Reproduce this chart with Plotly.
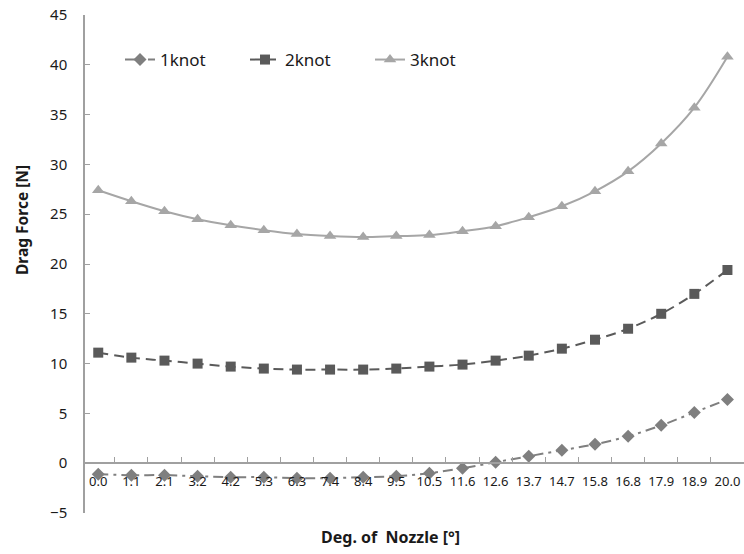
import plotly.graph_objects as go

categories = ["0.0", "1.1", "2.1", "3.2", "4.2", "5.3", "6.3", "7.4", "8.4", "9.5",
              "10.5", "11.6", "12.6", "13.7", "14.7", "15.8", "16.8", "17.9", "18.9", "20.0"]
knot1 = [-1.1, -1.2, -1.2, -1.3, -1.4, -1.4, -1.5, -1.5, -1.4, -1.3,
         -1.0, -0.5, 0.1, 0.7, 1.3, 1.9, 2.7, 3.8, 5.1, 6.4]
knot2 = [11.1, 10.6, 10.3, 10.0, 9.7, 9.5, 9.4, 9.4, 9.4, 9.5,
         9.7, 9.9, 10.3, 10.8, 11.5, 12.4, 13.5, 15.0, 17.0, 19.4]
knot3 = [27.4, 26.3, 25.3, 24.5, 23.9, 23.4, 23.0, 22.8, 22.7, 22.8,
         22.9, 23.3, 23.8, 24.7, 25.8, 27.3, 29.3, 32.1, 35.7, 40.8]
y_ticks = [-5, 0, 5, 10, 15, 20, 25, 30, 35, 40, 45]
series_names = ["1knot", "2knot", "3knot"]

FONT = "Noto Sans"
W, H = 744, 554
L, T, R, B = 85, 15, 0, 41
PW, PH = W - L - R, H - T - B


def px_x(px):
    return (px - L) / PW


def px_y(py):
    return (H - B - py) / PH


fig = go.Figure()
fig.add_trace(go.Scatter(
    x=categories, y=knot1, name=series_names[0], mode="lines+markers",
    line=dict(color="#7f7f7f", width=2, dash="10px,5px,3px,5px", shape="spline"),
    marker=dict(symbol="diamond", size=10, color="#7f7f7f")))
fig.add_trace(go.Scatter(
    x=categories, y=knot2, name=series_names[1], mode="lines+markers",
    line=dict(color="#5a5a5a", width=2, dash="10px,6px", shape="spline"),
    marker=dict(symbol="square", size=10, color="#5a5a5a")))
fig.add_trace(go.Scatter(
    x=categories, y=knot3, name=series_names[2], mode="lines+markers",
    line=dict(color="#a6a6a6", width=2, shape="spline"),
    marker=dict(symbol="triangle-up", size=11, color="#a6a6a6")))

fig.update_layout(
    width=W, height=H,
    margin=dict(l=L, r=R, t=T, b=B, autoexpand=False),
    plot_bgcolor="white", paper_bgcolor="white",
    font=dict(family=FONT, size=14, color="#1a1a1a"),
    showlegend=True,
    legend=dict(orientation="h", x=px_x(120), y=px_y(60),
                xanchor="left", yanchor="middle",
                bgcolor="rgba(0,0,0,0)", font=dict(size=17, color="#1a1a1a"),
                entrywidth=80, itemwidth=30),
    xaxis=dict(
        type="category", range=[-0.4, 19.5],
        anchor="free", position=0.1, automargin=False,
        showline=True, linecolor="#a0a0a0", linewidth=2,
        ticks="inside", ticklen=5, tickcolor="#a0a0a0", tickson="boundaries",
        showgrid=False, zeroline=False, tickangle=0,
        ticklabelstandoff=6,
        tickfont=dict(size=13, color="#1a1a1a"),
    ),
    yaxis=dict(
        range=[-5, 45], tickvals=y_ticks, automargin=False,
        showline=True, linecolor="#a0a0a0", linewidth=1.5,
        ticks="inside", ticklen=5, tickcolor="#a0a0a0",
        showgrid=False, zeroline=False,
        ticklabelstandoff=13,
        tickfont=dict(size=15, color="#1a1a1a"),
    ),
    annotations=[
        dict(text="<b>Deg. of  Nozzle [°]</b>", x=px_x(390), y=px_y(537),
             xref="paper", yref="paper", xanchor="center", yanchor="middle",
             showarrow=False, font=dict(size=16, color="#1a1a1a")),
        dict(text="<b>Drag Force [N]</b>", x=px_x(22), y=px_y(220),
             xref="paper", yref="paper", xanchor="center", yanchor="middle",
             showarrow=False, textangle=-90, font=dict(size=15.5, color="#1a1a1a")),
    ],
)

# remove the default 8px page margin so the figure fills the 744x554 window
fig.write_html("out.html", config={"displayModeBar": False},
               post_script="document.body.style.margin='0';")
